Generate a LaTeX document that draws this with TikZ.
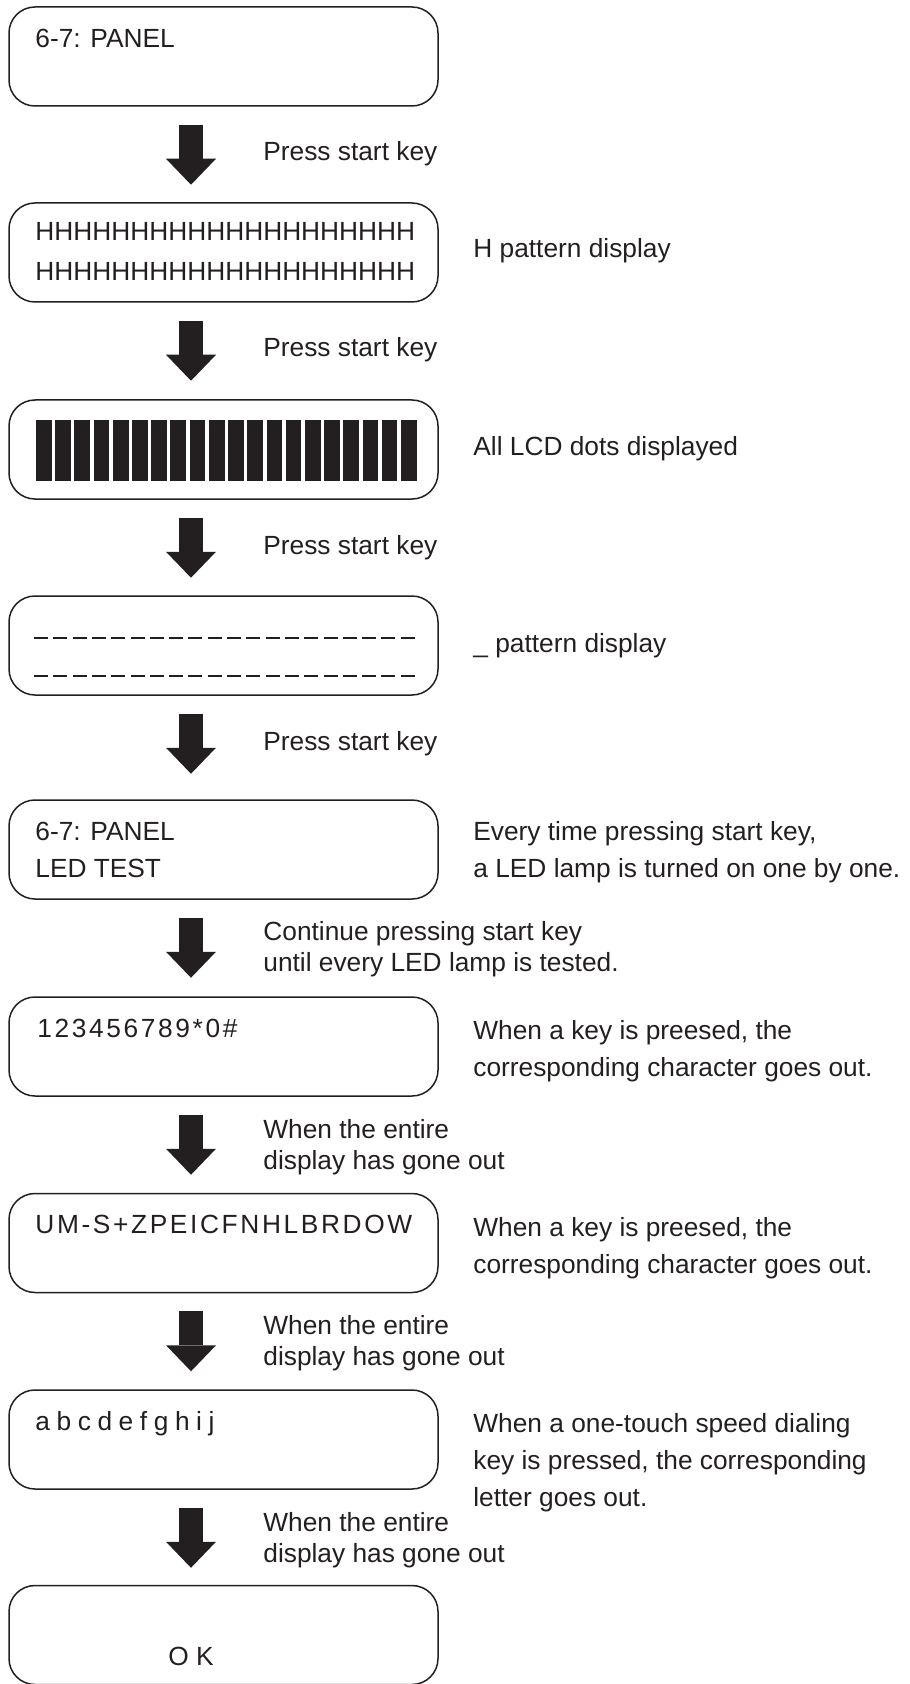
\documentclass[tikz,border=0pt]{standalone}
\usepackage{fontspec}
\setmainfont{Liberation Sans}
\newfontfamily\lcdwide[LetterSpace=10]{Liberation Sans}
\newfontfamily\lcdnarrow[WordSpace=0.9]{Liberation Sans}
\usepackage{xcolor}
\usepackage{tikz}
\usetikzlibrary{arrows.meta, positioning, calc}
\definecolor{inkgray}{RGB}{35,31,32}
\tikzset{
  panel/.style={
    rectangle, rounded corners=13pt, minimum width=214.5pt, minimum height=49.5pt,
    draw=inkgray, line width=0.75pt, inner sep=0pt
  },
  lcd/.style={
    anchor=base west, inner sep=0pt, text=inkgray,
    font=\fontsize{13.15}{20}\selectfont, align=left
  },
  note/.style={
    anchor=base west, inner sep=0pt, text=inkgray,
    font=\fontsize{13.15}{18.5}\selectfont, align=left
  },
  keynote/.style={
    note, font=\fontsize{13.15}{15.5}\selectfont
  },
  bigarrow/.style={
    draw=inkgray, line width=12.25pt,
    -{Triangle[width=25pt, length=13pt, line width=0pt]}
  }
}
\begin{document}
\begin{tikzpicture}[x=0.5pt, y=-0.5pt]
  \useasboundingbox (0,0) rectangle (909,1684);

  % Display panels
  \node[panel] (p1) at (223.5, 56.5)  {};
  \node[panel] (p2) at (223.5, 252.5) {};
  \node[panel] (p3) at (223.5, 449.5) {};
  \node[panel] (p4) at (223.5, 645.5) {};
  \node[panel] (p5) at (223.5, 849.5) {};
  \node[panel] (p6) at (223.5, 1046.5) {};
  \node[panel] (p7) at (223.5, 1243) {};
  \node[panel] (p8) at (223.5, 1439.5) {};
  \node[panel] (p9) at (223.5, 1635) {};

  % Panel contents (base = last line)
  \node[lcd] (t1) at (35, 48) {6-7: PANEL};
  \node[lcd] (t2) at (35, 281) {HHHHHHHHHHHHHHHHHHHH\\HHHHHHHHHHHHHHHHHHHH};
  \foreach \k in {0,...,19}
    \fill[inkgray] (36+19.21*\k, 420) rectangle ++(15.7, 61);
  \foreach \k in {0,...,19}
    \draw[inkgray, line width=1pt]
      (34+19.3*\k, 638) -- ++(14, 0)
      (34+19.3*\k, 676) -- ++(14, 0);
  \node[lcd, font=\fontsize{13.15}{18.5}\selectfont] (t5) at (35, 877) {6-7: PANEL\\LED TEST};
  \node[lcd, font=\lcdwide\fontsize{13.15}{20}\selectfont] (t6) at (37, 1037) {123456789*0\#};
  \node[lcd, font=\lcdwide\fontsize{13.15}{20}\selectfont] (t7) at (35, 1233) {UM-S+ZPEICFNHLBRDOW};
  \node[lcd, font=\lcdnarrow\fontsize{13.15}{20}\selectfont] (t8) at (35, 1430) {a b c d e f g h i j};
  \node[lcd] (t9) at (168, 1665) {O K};

  % Step arrows
  \coordinate (ax) at (191, 0);
  \foreach \i in {1,...,8}
    \draw[bigarrow] ($(p\i.south -| ax)+(0,18)$) -- ($(p\i.south -| ax)+(0,78)$);

  % Key notes
  \node[keynote] (k1) at (263, 161) {Press start key};
  \node[keynote] (k2) at (263, 357) {Press start key};
  \node[keynote] (k3) at (263, 554) {Press start key};
  \node[keynote] (k4) at (263, 750) {Press start key};
  \node[keynote] (k5) at (263, 971) {Continue pressing start key\\until every LED lamp is tested.};
  \node[keynote] (k6) at (263, 1169) {When the entire\\display has gone out};
  \node[keynote] (k7) at (263, 1365) {When the entire\\display has gone out};
  \node[keynote] (k8) at (263, 1562) {When the entire\\display has gone out};

  % Panel notes
  \node[note] (n2) at (473, 258) {H pattern display};
  \node[note] (n3) at (473, 455) {All LCD dots displayed};
  \node[note] (n4) at (473, 652) {\_ pattern display};
  \node[note] (n5) at (473, 877) {Every time pressing start key,\\a LED lamp is turned on one by one.};
  \node[note] (n6) at (473, 1076) {When a key is preesed, the\\corresponding character goes out.};
  \node[note] (n7) at (473, 1273) {When a key is preesed, the\\corresponding character goes out.};
  \node[note] (n8) at (473, 1506) {When a one-touch speed dialing\\key is pressed, the corresponding\\letter goes out.};
\end{tikzpicture}
\end{document}
